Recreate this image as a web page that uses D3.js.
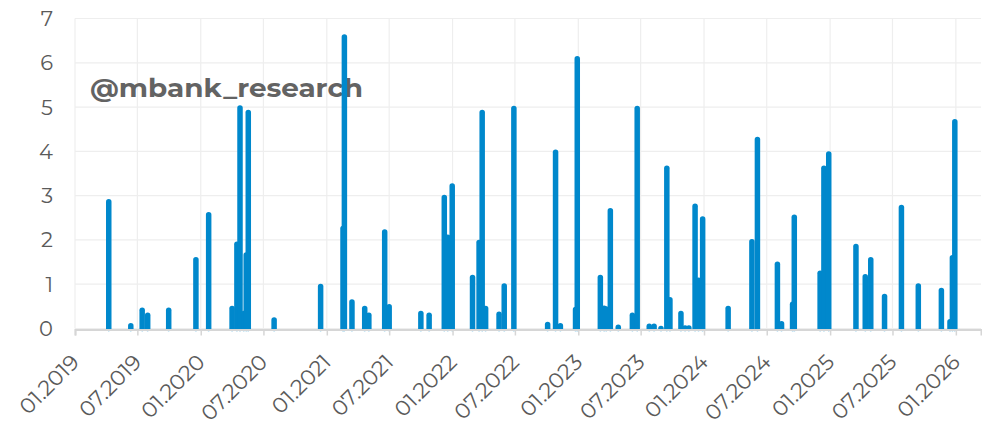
<!DOCTYPE html>
<html lang="pl">
<head>
    <meta charset="UTF-8">
    <title>mbank research spikes</title>
    <script src="https://cdn.jsdelivr.net/npm/d3@7/dist/d3.min.js"></script>
    <style>
        html, body { margin: 0; padding: 0; background: #fff; }
        svg { display: block; }
        .tick-label { font-family: Montserrat, 'DejaVu Sans', sans-serif; font-size: 21px; fill: #5a5a5a; }
        .x-label { font-size: 21.5px; }
    </style>
</head>
<body>
    <svg width="982" height="427"></svg>

    <script>
        // event dates and values
        const dates = [
            '2019-04-09', '2019-06-12', '2019-07-15', '2019-07-31', '2019-09-30', '2019-12-18',
            '2020-01-24', '2020-04-01', '2020-04-15', '2020-04-24', '2020-05-05', '2020-05-12',
            '2020-05-18', '2020-08-01', '2020-12-14', '2021-02-17', '2021-02-21', '2021-03-15',
            '2021-04-21', '2021-05-03', '2021-06-18', '2021-07-01', '2021-10-01', '2021-10-25',
            '2021-12-08', '2021-12-18', '2021-12-31', '2022-02-28', '2022-03-19', '2022-03-28',
            '2022-04-07', '2022-05-16', '2022-05-31', '2022-06-28', '2022-10-04', '2022-10-27',
            '2022-11-10', '2022-12-24', '2022-12-29', '2023-03-06', '2023-03-17', '2023-03-23',
            '2023-04-04', '2023-04-27', '2023-06-07', '2023-06-21', '2023-07-26', '2023-08-09',
            '2023-08-29', '2023-09-15', '2023-09-24', '2023-10-26', '2023-11-07', '2023-11-18',
            '2023-12-06', '2023-12-16', '2023-12-28', '2024-03-11', '2024-05-19', '2024-06-04',
            '2024-08-01', '2024-08-13', '2024-09-14', '2024-09-19', '2024-12-03', '2024-12-14',
            '2024-12-28', '2025-03-17', '2025-04-13', '2025-04-29', '2025-06-08', '2025-07-27',
            '2025-09-14', '2025-11-20', '2025-12-15', '2025-12-22', '2025-12-29'
        ];
        const values = [
            2.86, 0.06, 0.41, 0.30, 0.41, 1.55,
            2.57, 0.45, 1.90, 4.98, 0.34, 1.66,
            4.88, 0.19, 0.95, 2.26, 6.58, 0.60,
            0.45, 0.30, 2.18, 0.49, 0.34, 0.30,
            2.96, 2.06, 3.22, 1.15, 1.94, 4.88,
            0.45, 0.32, 0.96, 4.97, 0.09, 3.98,
            0.06, 0.43, 6.09, 1.15, 0.46, 0.44,
            2.66, 0.03, 0.30, 4.97, 0.05, 0.05,
            0.00, 3.62, 0.65, 0.34, 0.01, 0.01,
            2.76, 1.09, 2.47, 0.45, 1.96, 4.27,
            1.45, 0.11, 0.55, 2.51, 1.25, 3.62,
            3.94, 1.85, 1.17, 1.55, 0.72, 2.73,
            0.96, 0.86, 0.15, 1.60, 4.67
        ];
        const yTicks = [0, 1, 2, 3, 4, 5, 6, 7];
        const xStart = '2019-01-01';
        const xEnd = '2026-03-15';

        const parse = d3.timeParse('%Y-%m-%d');
        const data = dates.map((d, i) => ({ date: parse(d), value: values[i] }));

        const svg = d3.select('svg');
        const plotLeft = 75, plotRight = 981, plotTop = 18.5, plotBottom = 328.5;

        const x = d3.scaleTime()
            .domain([parse(xStart), parse(xEnd)])
            .range([plotLeft, plotRight]);
        const y = d3.scaleLinear()
            .domain([0, 7])
            .range([plotBottom, plotTop]);

        const xTicks = x.ticks(d3.timeMonth.every(6));

        // grid
        svg.append('g')
            .selectAll('line')
            .data(yTicks).enter().append('line')
            .attr('x1', plotLeft).attr('x2', plotRight)
            .attr('y1', d => y(d)).attr('y2', d => y(d))
            .attr('stroke', '#eeeeee').attr('stroke-width', 1.2);
        svg.append('g')
            .selectAll('line')
            .data(xTicks).enter().append('line')
            .attr('x1', d => x(d)).attr('x2', d => x(d))
            .attr('y1', plotTop).attr('y2', plotBottom)
            .attr('stroke', '#eeeeee').attr('stroke-width', 1.2);

        // watermark
        svg.append('text')
            .attr('x', 90).attr('y', 97)
            .attr('textLength', 273)
            .attr('lengthAdjust', 'spacingAndGlyphs')
            .style('font-family', "Montserrat, 'DejaVu Sans', sans-serif")
            .style('font-weight', 'bold')
            .style('font-size', '25px')
            .style('fill', '#636363')
            .text('@mbank_research');

        // spikes
        svg.append('g')
            .selectAll('line')
            .data(data).enter().append('line')
            .attr('x1', d => x(d.date)).attr('x2', d => x(d.date))
            .attr('y1', y(0)).attr('y2', d => y(d.value))
            .attr('stroke', '#0088cc')
            .attr('stroke-width', 5.5)
            .attr('stroke-linecap', 'round');

        // x axis
        const xAxis = d3.axisBottom(x)
            .tickValues(xTicks)
            .tickSize(6)
            .tickFormat(d3.timeFormat('%m.%Y'));
        const gx = svg.append('g')
            .attr('transform', `translate(0, ${plotBottom + 1})`)
            .call(xAxis);
        gx.select('.domain').attr('stroke', '#d6d6d6').attr('stroke-width', 2);
        gx.selectAll('.tick line').attr('stroke', '#d6d6d6').attr('stroke-width', 1.5);
        gx.selectAll('.tick text')
            .attr('class', 'tick-label x-label')
            .attr('text-anchor', 'end')
            .attr('x', 0).attr('y', 0).attr('dy', 0)
            .attr('transform', 'translate(5, 34) rotate(-45)');

        // y labels
        svg.append('g')
            .selectAll('text')
            .data(yTicks).enter().append('text')
            .attr('class', 'tick-label')
            .attr('x', 53)
            .attr('y', d => y(d))
            .attr('dy', '0.36em')
            .attr('text-anchor', 'end')
            .text(d => d);
    </script>
</body>
</html>
